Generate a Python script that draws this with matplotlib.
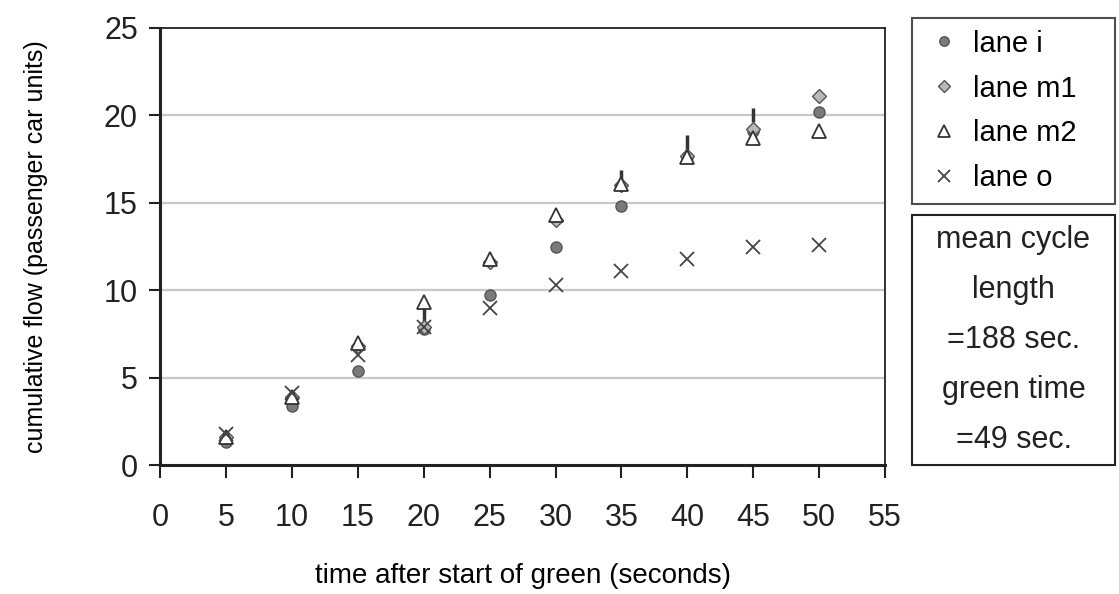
import matplotlib
matplotlib.use("Agg")
import matplotlib.pyplot as plt
from matplotlib.patches import Rectangle

########################### data ############################

t = [5, 10, 15, 20, 25, 30, 35, 40, 45, 50]
lane_i = [1.3, 3.4, 5.4, 7.8, 9.7, 12.5, 14.8, 17.6, 19.1, 20.2]
lane_m1 = [1.6, 3.9, 6.8, 7.9, 11.6, 14.0, 16.0, 17.7, 19.2, 21.1]
lane_m2 = [1.6, 3.9, 7.0, 9.3, 11.8, 14.3, 16.1, 17.6, 18.7, 19.1]
lane_o = [1.8, 4.1, 6.3, 7.9, 9.0, 10.3, 11.1, 11.8, 12.5, 12.6]

# short vertical bars seen above some markers
bar_t = [20, 35, 40, 45]
bar_lo = [8.0, 16.3, 17.8, 19.6]
bar_hi = [9.0, 16.9, 18.9, 20.4]

x_ticks = [0, 5, 10, 15, 20, 25, 30, 35, 40, 45, 50, 55]
y_ticks = [0, 5, 10, 15, 20, 25]
note_lines = ["mean cycle", "length", "=188 sec.", "green time", "=49 sec."]

########################### settings ############################

plt.rcParams['font.family'] = ['Liberation Sans Narrow', 'Liberation Sans', 'DejaVu Sans']
tick_labelsize = 22
xlabel_fontsize = 20
ylabel_fontsize = 18
legend_fontsize = 21
note_fontsize = 22
dark = '#222222'

fig = plt.figure(figsize=(11.19, 5.94), dpi=100)
ax = fig.add_axes([0.143, 0.217, 0.648, 0.736])

for y in [5, 10, 15, 20]:
    ax.axhline(y, color='#c8c8c8', linewidth=1.6, zorder=0)

ax.vlines(bar_t, bar_lo, bar_hi, color='#333333', linewidth=2.5, zorder=2)

ax.plot(t, lane_i, linestyle='none', marker='o', markersize=8,
        markerfacecolor='#7a7a7a', markeredgecolor='#555555', label='lane i', zorder=3)
ax.plot(t, lane_m1, linestyle='none', marker='D', markersize=7,
        markerfacecolor='#b8b8b8', markeredgecolor='#555555', label='lane m1', zorder=3)
ax.plot(t, lane_m2, linestyle='none', marker='^', markersize=10,
        markerfacecolor='white', markeredgecolor='#333333', markeredgewidth=1.3,
        label='lane m2', zorder=4)
ax.plot(t, lane_o, linestyle='none', marker='x', markersize=10,
        color='#444444', markeredgewidth=1.3, label='lane o', zorder=4)

ax.set_xlim(0, 55)
ax.set_ylim(0, 25)
ax.set_xticks(x_ticks)
ax.set_yticks(y_ticks)

ax.spines['left'].set_linewidth(2.2)
ax.spines['bottom'].set_linewidth(2.2)
ax.spines['top'].set_linewidth(1.3)
ax.spines['right'].set_linewidth(1.3)
for s in ax.spines.values():
    s.set_color(dark)

ax.tick_params(axis='x', direction='out', length=9, width=1.5, pad=18,
               labelsize=tick_labelsize, colors=dark)
ax.tick_params(axis='y', direction='out', length=8, width=1.5, pad=8,
               labelsize=tick_labelsize, colors=dark)

ax.set_xlabel('time after start of green (seconds)', fontsize=xlabel_fontsize, labelpad=22)
ax.set_ylabel('cumulative flow (passenger car units)', fontsize=ylabel_fontsize, labelpad=40)

lx0, lx1 = 912 / 1119, 1115 / 1119
leg = ax.legend(loc='upper left', bbox_to_anchor=(lx0, 1 - 18 / 594, lx1 - lx0, 0.0),
                bbox_transform=fig.transFigure, mode='expand',
                fontsize=legend_fontsize, frameon=True, fancybox=False, handletextpad=0.3,
                handlelength=1.4, borderpad=0.4, labelspacing=0.58, borderaxespad=0,
                markerscale=0.85)
frame = leg.get_frame()
frame.set_edgecolor(dark)
frame.set_linewidth(1.5)

# note box with cycle info
x0, x1 = 912 / 1119, 1115 / 1119
y0, y1 = 1 - 465 / 594, 1 - 215 / 594
fig.patches.append(Rectangle((x0, y0), x1 - x0, y1 - y0, transform=fig.transFigure,
                             fill=False, edgecolor=dark, linewidth=1.5))
step = (y1 - y0) / (len(note_lines))
for k, line in enumerate(note_lines):
    fig.text((x0 + x1) / 2, y1 - step * (k + 0.5), line, ha='center', va='center',
             fontsize=note_fontsize, color=dark)

fig.savefig('out.png', dpi=100)
